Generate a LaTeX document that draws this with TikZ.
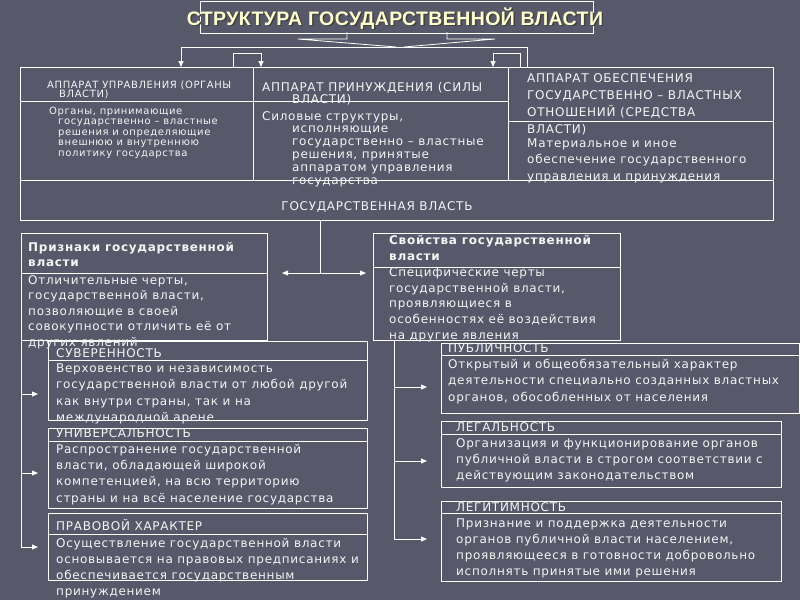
\documentclass[tikz,border=0pt]{standalone}
\usepackage{fontspec}
\setmainfont{DejaVu Sans}[LetterSpace=6]
\newfontfamily\titlefont{Liberation Sans}[LetterSpace=2]
\usetikzlibrary{positioning,arrows.meta}
\definecolor{slate}{RGB}{87,89,106}
\definecolor{paper}{RGB}{244,244,244}
\definecolor{cream}{RGB}{255,255,205}
\setlength{\lineskiplimit}{-30pt}
\tikzset{
  >={Triangle[length=6pt,width=5pt]},
  box/.style={draw=white, line width=0.8pt, inner sep=0pt, anchor=north west},
  rule/.style={draw=white, line width=0.8pt},
  link/.style={rule, ->},
  txt/.style={anchor=base west, inner sep=0pt, align=left, text=paper,
    font=\fontsize{12}{#1}\selectfont},
  txt/.default=16.2,
  smalltxt/.style={txt, font=\fontsize{10}{#1}\selectfont},
  boldtxt/.style={txt, font=\fontsize{12}{#1}\selectfont\bfseries},
  headline/.style={inner sep=0pt, anchor=base,
    font=\titlefont\bfseries\fontsize{19.5}{21}\selectfont}
}
\begin{document}
\begin{tikzpicture}[x=1pt,y=-1pt]
\fill[slate] (0,0) rectangle (800,600);
\useasboundingbox (0,0) rectangle (800,600);

\node[box, minimum width=393pt, minimum height=32pt] (title) at (200,0.5) {};
\node[headline, text=black!75] (titleshade) at (396.5,26.5) {СТРУКТУРА ГОСУДАРСТВЕННОЙ ВЛАСТИ};
\node[headline, text=cream] (titletext) at (395,25) {СТРУКТУРА ГОСУДАРСТВЕННОЙ ВЛАСТИ};

\draw[rule] (347,32) -- (347,39) -- (298,39) -- (396,47);
\draw[rule] (447,32) -- (447,39) -- (495,39) -- (404,47);

\node[box, minimum width=753pt, minimum height=153pt] (frame) at (20,67) {};
\draw[rule] (253,67) -- (253,180);
\draw[rule] (508,67) -- (508,180);
\draw[rule] (frame.west |- 0,180) -- (frame.east |- 0,180);
\draw[rule] (frame.west |- 0,101) -- (508,101);
\draw[rule] (508,121) -- (frame.east |- 0,121);

\coordinate (forkL) at (181,47);
\coordinate (forkR) at (527,47);
\draw[rule] (forkL) -- (forkR) -- (forkR |- frame.north);
\draw[link] (forkL) -- (forkL |- frame.north);
\draw[link] (233,0 |- frame.north) -- (233,53) -- (261,53) -- (261,0 |- frame.north);
\draw[link] (520,0 |- frame.north) -- (520,53) -- (493,53) -- (493,0 |- frame.north);

% text blocks sit on the baseline of their last line
\node[smalltxt=9.5] (c1head) at (47,97.5) {АППАРАТ УПРАВЛЕНИЯ (ОРГАНЫ\\\hspace*{12pt}ВЛАСТИ)};
\node[smalltxt=10.5] (c1body) at (49,156) {Органы, принимающие\\
  \hspace*{9pt}государственно – властные\\
  \hspace*{9pt}решения и определяющие\\
  \hspace*{9pt}внешнюю и внутреннюю\\
  \hspace*{9pt}политику государства};
\node[txt=12] (c2head) at (262,103) {АППАРАТ ПРИНУЖДЕНИЯ (СИЛЫ\\\hspace*{30pt}ВЛАСТИ)};
\node[txt=12.8] (c2body) at (262,184) {Силовые структуры,\\
  \hspace*{30pt}исполняющие\\
  \hspace*{30pt}государственно – властные\\
  \hspace*{30pt}решения, принятые\\
  \hspace*{30pt}аппаратом управления\\
  \hspace*{30pt}государства};
\node[txt=16.7] (c3head) at (527,133) {АППАРАТ ОБЕСПЕЧЕНИЯ\\
  ГОСУДАРСТВЕННО – ВЛАСТНЫХ\\ОТНОШЕНИЙ (СРЕДСТВА\\ВЛАСТИ)};
\node[txt=16.5] (c3body) at (527,180) {Материальное и иное\\
  обеспечение государственного\\управления и принуждения};
\node[txt, anchor=base] (power) at (377,210) {ГОСУДАРСТВЕННАЯ ВЛАСТЬ};

\foreach \nm/\x/\y/\w/\h/\hy in {
  priz/21/233/246/107/273,
  svoj/373/233/247/107/267,
  sov/48/341/319/79/360,
  univ/48/428/319/80/441,
  prav/48/513/319/67/534,
  publ/441/343/358/70/355,
  legal/441/421/340/66/434,
  legit/441/501/340/80/513%
} {
  \node[box, minimum width=\w pt, minimum height=\h pt] (\nm) at (\x,\y) {};
  \draw[rule] (\nm.west |- 0,\hy) -- (\nm.east |- 0,\hy);
}

\coordinate (split) at (320,273);
\draw[rule] (split |- frame.south) -- (split);
\draw[link] (split) -- (282,273);
\draw[link] (split) -- (366,273);

\draw[rule] (priz.south west) -- (21,547);
\foreach \yy in {394,473,547}
  \draw[link] (priz.west |- 0,\yy) -- (38,\yy);
\coordinate (trunk) at (394,340);
\draw[rule] (trunk) -- (394,539);
\foreach \yy in {387,461,539}
  \draw[link] (trunk |- 0,\yy) -- (427,\yy);

\node[boldtxt=15.5] (prizhead) at (28,266.5) {Признаки государственной\\власти};
\node[txt=15.5] (prizbody) at (28,346) {Отличительные черты,\\государственной власти,\\
  позволяющие в своей\\совокупности отличить её от\\других явлений};
\node[boldtxt=16] (svojhead) at (389,260) {Свойства государственной\\власти};
\node[txt=15.6] (svojbody) at (389,339) {Специфические черты\\государственной власти,\\
  проявляющиеся в\\особенностях её воздействия\\на другие явления};

\node[txt] (sovhead) at (56,357) {СУВЕРЕННОСТЬ};
\node[txt] (sovbody) at (56,421.3) {Верховенство и независимость\\
  государственной власти от любой другой\\как внутри страны, так и на\\международной арене};
\node[txt] (univhead) at (56,437) {УНИВЕРСАЛЬНОСТЬ};
\node[txt=16.3] (univbody) at (56,502) {Распространение государственной\\
  власти, обладающей широкой\\компетенцией, на всю территорию\\страны и на всё население государства};
\node[txt] (pravhead) at (56,530) {ПРАВОВОЙ ХАРАКТЕР};
\node[txt=16] (pravbody) at (56,595) {Осуществление государственной власти\\
  основывается на правовых предписаниях и\\обеспечивается государственным\\принуждением};

\node[txt] (publhead) at (448,352) {ПУБЛИЧНОСТЬ};
\node[txt=16.5] (publbody) at (448,401) {Открытый и общеобязательный характер\\
  деятельности специально созданных властных\\органов, обособленных от населения};
\node[txt] (legalhead) at (456,431) {ЛЕГАЛЬНОСТЬ};
\node[txt=16] (legalbody) at (456,479) {Организация и функционирование органов\\
  публичной власти в строгом соответствии с\\действующим законодательством};
\node[txt] (legithead) at (456,511) {ЛЕГИТИМНОСТЬ};
\node[txt=16] (legitbody) at (456,575) {Признание и поддержка деятельности\\
  органов публичной власти населением,\\проявляющееся в готовности добровольно\\
  исполнять принятые ими решения};
\end{tikzpicture}
\end{document}
